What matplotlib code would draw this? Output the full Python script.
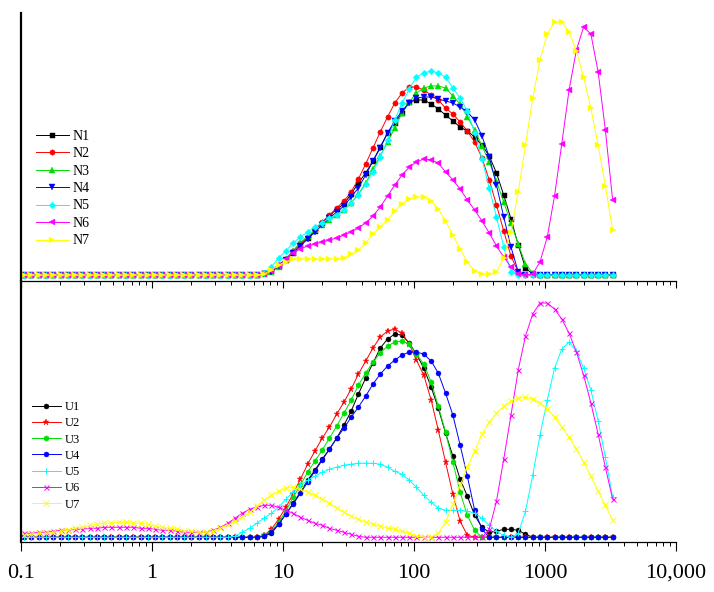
import numpy as np
import matplotlib
matplotlib.use('Agg')
import matplotlib.pyplot as plt
from matplotlib.ticker import FixedLocator, FixedFormatter, LogLocator, NullFormatter

plt.rcParams['font.family'] = ['Liberation Serif', 'DejaVu Serif']

# size class edges (um); each point sits at the geometric centre of its class
edges = [0.0995, 0.113, 0.128, 0.146, 0.166, 0.188, 0.214, 0.243, 0.276, 0.314,
         0.357, 0.405, 0.46, 0.523, 0.594, 0.675, 0.767, 0.872, 0.991, 1.13,
         1.28, 1.45, 1.65, 1.88, 2.13, 2.42, 2.75, 3.12, 3.55, 4.03,
         4.58, 5.21, 5.92, 6.72, 7.64, 8.68, 9.86, 11.2, 12.7, 14.5,
         16.4, 18.7, 21.2, 24.1, 27.4, 31.1, 35.3, 40.1, 45.6, 51.8,
         58.9, 66.9, 76.0, 86.4, 98.1, 111, 127, 144, 163, 186,
         211, 240, 272, 310, 352, 400, 454, 516, 586, 666,
         756, 859, 976, 1110, 1260, 1430, 1630, 1850, 2100, 2390,
         2710, 3080, 3500]
size = np.sqrt(np.array(edges[:-1]) * np.array(edges[1:]))

# ---- top panel (relative intensity) ----
N1 = [0, 0, 0, 0, 0, 0, 0, 0, 0, 0, 0,
      0, 0, 0, 0, 0, 0, 0, 0, 0, 0, 0,
      0, 0, 0, 0, 0, 0, 0, 0, 0, 0, 0,
      2, 4, 9, 15, 22, 30, 37, 44, 52, 59, 66, 71, 81, 92, 102, 114, 128, 142,
      152, 162, 173, 175, 175, 171, 166, 160, 154, 148, 144, 138, 130, 119,
      102, 80, 56, 30, 7, 1,
      0, 0, 0, 0, 0, 0, 0, 0, 0, 0, 0]
N2 = [0, 0, 0, 0, 0, 0, 0, 0, 0, 0, 0,
      0, 0, 0, 0, 0, 0, 0, 0, 0, 0, 0,
      0, 0, 0, 0, 0, 0, 0, 0, 0, 0, 0,
      2, 5, 10, 16, 24, 32, 38, 45, 53, 60, 67, 74, 83, 96, 111, 127, 143, 158,
      172, 182, 188, 188, 185, 180, 175, 167, 161, 153, 144, 133, 117, 95,
      70, 44, 19, 3,
      0, 0, 0, 0, 0, 0, 0, 0, 0, 0, 0, 0, 0]
N3 = [0, 0, 0, 0, 0, 0, 0, 0, 0, 0, 0,
      0, 0, 0, 0, 0, 0, 0, 0, 0, 0, 0,
      0, 0, 0, 0, 0, 0, 0, 0, 0, 0, 0,
      1, 3, 8, 16, 24, 32, 39, 45, 50, 55, 60, 65, 72, 81, 92, 106, 119, 133,
      147, 162, 173, 182, 187, 189, 189, 187, 179, 171, 158, 145, 129, 113,
      94, 73, 52, 31, 11, 2,
      0, 0, 0, 0, 0, 0, 0, 0, 0, 0, 0]
N4 = [0, 0, 0, 0, 0, 0, 0, 0, 0, 0, 0,
      0, 0, 0, 0, 0, 0, 0, 0, 0, 0, 0,
      0, 0, 0, 0, 0, 0, 0, 0, 0, 0, 0,
      1, 3, 9, 15, 22, 29, 36, 43, 50, 57, 63, 69, 78, 87, 100, 114, 127, 142,
      154, 164, 172, 177, 178, 178, 176, 174, 172, 168, 163, 155, 139, 118,
      90, 58, 28, 3,
      0, 0, 0, 0, 0, 0, 0, 0, 0, 0, 0, 0, 0]
N5 = [0, 0, 0, 0, 0, 0, 0, 0, 0, 0, 0,
      0, 0, 0, 0, 0, 0, 0, 0, 0, 0, 0,
      0, 0, 0, 0, 0, 0, 0, 0, 0, 0, 0,
      2, 8, 17, 24, 32, 38, 43, 48, 52, 57, 60, 65, 72, 80, 91, 103, 118, 135,
      155, 172, 186, 198, 202, 204, 202, 198, 187, 177, 164, 142, 116, 87,
      58, 28, 3,
      0, 0, 0, 0, 0, 0, 0, 0, 0, 0, 0, 0, 0, 0]
N6 = [0, 0, 0, 0, 0, 0, 0, 0, 0, 0, 0,
      0, 0, 0, 0, 0, 0, 0, 0, 0, 0, 0,
      0, 0, 0, 0, 0, 0, 0, 0, 0, 0, 0,
      1, 4, 9, 16, 22, 26, 29, 31, 33, 35, 37, 40, 43, 47, 52, 59, 68, 79,
      90, 100, 108, 113, 116, 115, 112, 103, 95, 86, 75, 65, 54, 42,
      29, 18, 8, 1, 0, 1, 13, 38, 79, 131, 185, 225, 248, 241, 203, 145, 75]
N7 = [0, 0, 0, 0, 0, 0, 0, 0, 0, 0, 0,
      0, 0, 0, 0, 0, 0, 0, 0, 0, 0, 0,
      0, 0, 0, 0, 0, 0, 0, 0, 0, 0, 0,
      1, 5, 10, 13, 16, 16, 16, 16, 16, 16, 16, 17, 21, 25, 32, 41, 48, 55,
      64, 71, 76, 78, 78, 74, 66, 54, 40, 26, 13, 4, 1, 1,
      3, 17, 43, 83, 130, 177, 215, 241, 253, 253, 243, 224, 198, 167, 130, 89, 45]

# ---- bottom panel ----
U1 = [0, 0, 0, 0, 0, 0, 0, 0, 0, 0, 0,
      0, 0, 0, 0, 0, 0, 0, 0, 0, 0, 0,
      0, 0, 0, 0, 0, 0, 0, 0, 0, 0, 0,
      1, 4, 13, 23, 34, 45, 57, 67, 78, 88, 99, 112, 126, 143, 159, 174, 189, 198,
      203, 202, 194, 183, 169, 150, 129, 104, 81, 58, 41, 22, 10, 5,
      6, 8, 8, 7, 3, 0,
      0, 0, 0, 0, 0, 0, 0, 0, 0, 0, 0]
U2 = [0, 0, 0, 0, 0, 0, 0, 0, 0, 0, 0,
      0, 0, 0, 0, 0, 0, 0, 0, 0, 0, 0,
      0, 0, 0, 0, 0, 0, 0, 0, 0, 0, 0,
      2, 8, 18, 30, 43, 58, 73, 86, 99, 110, 123, 135, 148, 163, 176, 189, 200, 206,
      208, 204, 193, 177, 162, 137, 107, 75, 43, 16, 2, 0,
      0, 0, 0, 0, 0, 0, 0, 0, 0, 0, 0, 0, 0, 0, 0, 0, 0, 0, 0]
U3 = [0, 0, 0, 0, 0, 0, 0, 0, 0, 0, 0,
      0, 0, 0, 0, 0, 0, 0, 0, 0, 0, 0,
      0, 0, 0, 0, 0, 0, 0, 0, 0, 0, 0,
      2, 6, 15, 26, 40, 52, 65, 76, 87, 99, 111, 124, 137, 152, 164, 175, 184, 191,
      195, 196, 193, 183, 173, 155, 131, 105, 75, 45, 22, 7, 0,
      0, 0, 0, 0, 0, 0, 0, 0, 0, 0, 0, 0, 0, 0, 0, 0, 0, 0]
U4 = [0, 0, 0, 0, 0, 0, 0, 0, 0, 0, 0,
      0, 0, 0, 0, 0, 0, 0, 0, 0, 0, 0,
      0, 0, 0, 0, 0, 0, 0, 0, 0, 0, 0,
      1, 5, 13, 23, 33, 44, 55, 66, 77, 88, 99, 109, 120, 130, 141, 153, 163, 171,
      177, 182, 185, 185, 183, 176, 164, 144, 122, 92, 61, 27, 8, 0,
      0, 0, 0, 0, 0, 0, 0, 0, 0, 0, 0, 0, 0, 0, 0, 0, 0]
U5 = [0, 0, 0, 0, 0, 0, 0, 0, 0, 0,
      0, 0, 0, 0, 0, 0, 0, 0, 0, 0,
      0, 0, 0, 0, 0, 0, 0, 0, 0,
      1, 5, 9, 14, 19, 24, 30, 38, 45, 52, 57, 61, 65, 68, 70,
      72, 73, 74, 74, 74, 73, 70, 66, 63, 57, 50, 42, 35, 29, 27,
      27, 27, 26, 24, 19, 12, 6, 2, 0, 4, 26, 62, 102, 137, 169,
      188, 195, 186, 169, 147, 116, 80, 40]
U6 = [4, 4, 5, 5, 6, 7, 7, 8, 8, 9,
      9, 10, 10, 10, 10, 10, 9, 9, 8, 7,
      7, 6, 5, 5, 5, 5, 7, 10, 14, 19,
      24, 28, 30, 32, 32, 30, 27, 24, 20, 17,
      14, 12, 9, 7, 5, 3, 1,
      0, 0, 0, 0, 0, 0, 0, 0, 0, 0, 0, 0, 0, 0, 0, 0, 0,
      8, 36, 78, 122, 167, 201, 223, 234, 234, 228, 218, 204, 185, 162, 134, 103, 70, 38]
U7 = [2, 3, 4, 4, 5, 6, 7, 9, 10, 12,
      13, 14, 14, 15, 15, 14, 14, 13, 11, 10,
      9, 8, 6, 6, 5, 5, 6, 9, 12, 16,
      20, 25, 31, 37, 42, 46, 49, 50, 48, 45,
      42, 38, 34, 29, 25, 21, 18, 15, 13, 11,
      9, 8, 6, 4, 1, 0, 0, 4, 15, 33,
      52, 70, 86, 103, 115, 124, 131, 136, 139, 140,
      138, 134, 128, 120, 110, 100, 88, 75, 61, 46,
      32, 17]

top_names = ['N1', 'N2', 'N3', 'N4', 'N5', 'N6', 'N7']
top_data = [N1, N2, N3, N4, N5, N6, N7]
top_markers = ['s', 'o', '^', 'v', 'D', '<', '>']
top_ms = [3.6, 3.8, 4.2, 4.2, 3.4, 4.2, 4.2]

bot_names = ['U1', 'U2', 'U3', 'U4', 'U5', 'U6', 'U7']
bot_data = [U1, U2, U3, U4, U5, U6, U7]
bot_markers = ['o', '*', 'h', 'o', '+', 'x', 'x']
bot_ms = [3.6, 5.0, 4.0, 3.6, 4.0, 3.6, 4.0]

colors = ['#000000', '#ff0000', '#00e000', '#0000ff', '#00ffff', '#ff00ff', '#ffff00']

W, H = 714, 592
fig = plt.figure(figsize=(W / 100, H / 100), dpi=100)
ax1 = fig.add_axes([21 / W, 1 - 281 / H, 655 / W, 268 / H])
ax2 = fig.add_axes([21 / W, 1 - 542 / H, 655 / W, 261 / H])
ax2.set_facecolor('none')   # keep the top panel's outward ticks visible

for name, y, m, ms, c in zip(top_names, top_data, top_markers, top_ms, colors):
    ax1.plot(size, y, color=c, lw=0.7, marker=m, ms=ms, mec=c, mfc=c, mew=0.3, label=name)

for name, y, m, ms, c in zip(bot_names, bot_data, bot_markers, bot_ms, colors):
    thin = m in ('+', 'x')
    ax2.plot(size, y, color=c, lw=0.7, marker=m, ms=ms, mec=c, mfc=c,
             mew=0.7 if thin else 0.3, label=name)

for ax in (ax1, ax2):
    ax.set_xscale('log')
    ax.set_xlim(0.1, 10000)
    ax.set_yticks([])
    ax.spines['top'].set_visible(False)
    ax.spines['right'].set_visible(False)
    ax.spines['left'].set_linewidth(1.6)
    ax.spines['bottom'].set_linewidth(0.9)
    ax.xaxis.set_major_locator(FixedLocator([0.1, 1, 10, 100, 1000, 10000]))
    ax.xaxis.set_minor_locator(LogLocator(base=10, subs=np.arange(2, 10)))
    ax.xaxis.set_minor_formatter(NullFormatter())
    ax.tick_params(axis='x', which='minor', direction='out', length=3.2, width=0.7)

ax1.set_ylim(-6, 262)
ax2.set_ylim(-4.7, 256)
ax1.tick_params(axis='x', which='major', direction='out', length=5.0, width=0.8, labelbottom=False)
ax2.xaxis.set_major_formatter(FixedFormatter(['0.1', '1', '10', '100', '1000', '10,000']))
ax2.tick_params(axis='x', which='major', direction='out', length=6.5, width=0.8,
                labelsize=16, pad=9)

ax1.legend(loc='center left', bbox_to_anchor=(0.0229, 0.345), frameon=False, fontsize=10,
           handlelength=2.35, handletextpad=0.3, labelspacing=0.32, borderpad=0, borderaxespad=0)
ax2.legend(loc='center left', bbox_to_anchor=(0.0168, 0.33), frameon=False, fontsize=9,
           handlelength=2.3, handletextpad=0.3, labelspacing=0.34, borderpad=0, borderaxespad=0)

fig.savefig('out.png', dpi=100)
